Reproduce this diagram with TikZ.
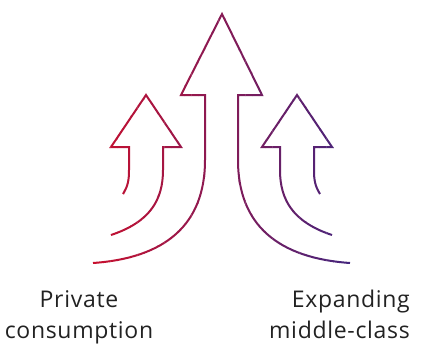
\documentclass[tikz,border=0pt]{standalone}
\usepackage{fontspec}
\setmainfont{Open Sans}[LetterSpace=3]
\usetikzlibrary{positioning}

\definecolor{arrowred}{RGB}{200,16,46}
\definecolor{arrowpurple}{RGB}{64,38,128}
\definecolor{labelgray}{RGB}{34,34,34}

\tikzset{
  arrowline/.style={line width=2pt, line join=miter, draw=strokecol},
  labeltext/.style={font=\fontsize{23}{31}\selectfont, text=labelgray, inner sep=0pt}
}

% the three outline arrows, drawn again for each colour strip
\def\arrowpaths{
  % centre arrow
  \draw[arrowline] (93,263) .. controls (165,258) and (205,225) .. (205,160)
    -- (205,95) -- (181,95) -- (222,14) -- (262,95) -- (238,95) -- (238,160)
    .. controls (238,225) and (278,258) .. (350,263);
  % left arrow
  \draw[arrowline] (123,194) .. controls (128,186) and (129,180) .. (129,170)
    -- (129,147) -- (111,147) -- (146,95) -- (181,147) -- (163,147) -- (163,170)
    .. controls (163,200) and (150,222) .. (111,235);
  % right arrow
  \draw[arrowline] (320,194) .. controls (315,186) and (314,180) .. (314,170)
    -- (314,147) -- (332,147) -- (297,95) -- (262,147) -- (280,147) -- (280,170)
    .. controls (280,200) and (293,222) .. (332,235);
}

\begin{document}
\begin{tikzpicture}[x=1pt, y=-1pt]
  \useasboundingbox (0,0) rectangle (432,359);
  \def \nstrips {40}
  \foreach \i in {1,...,\nstrips}
           {
             \pgfmathsetmacro \xa {90+(\i-1)*6.75}
             \pgfmathsetmacro \xb {\xa+7.2}
             \pgfmathtruncatemacro \p {100*(\i-1)/(\nstrips-1)}
             \begin{scope}
               \colorlet{strokecol}{arrowpurple!\p!arrowred}
               \clip (\xa,0) rectangle (\xb,359);
               \arrowpaths
             \end{scope}
           }
  \node[labeltext, align=center, anchor=north] (private) at (79,290) {Private\\consumption};
  \node[labeltext, align=right, anchor=north east] (middle) at (410,290) {Expanding\\middle-class};
\end{tikzpicture}
\end{document}
